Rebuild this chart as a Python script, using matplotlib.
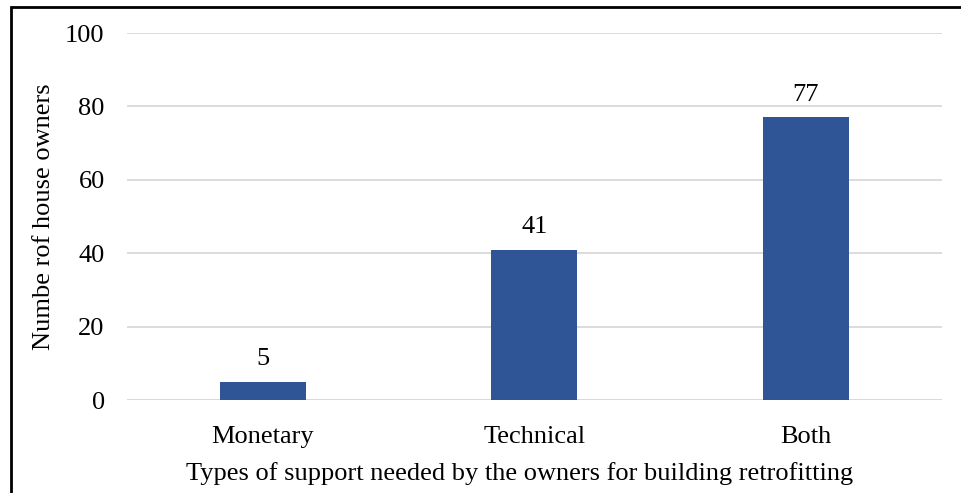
import matplotlib
matplotlib.use("Agg")
import matplotlib.pyplot as plt
from matplotlib.patches import Rectangle

categories = ["Monetary", "Technical", "Both"]
values = [5, 41, 77]
yticks = [0, 20, 40, 60, 80, 100]

plt.rcParams['font.family'] = ['Liberation Serif', 'DejaVu Serif']
FS = 19

fig = plt.figure(figsize=(9.61, 4.93), dpi=100)
ax = fig.add_axes([0.132, 0.1886, 0.848, 0.7444])

x = list(range(len(categories)))
bars = ax.bar(x, values, width=0.317, color="#2F5597", zorder=3)
for xi, v in zip(x, values):
    ax.annotate(str(v), (xi, v), xytext=(0, 8.5), textcoords="offset points",
                ha="center", va="bottom", fontsize=FS, color="#000000")

ax.set_xlim(-0.5, 2.5)
ax.set_ylim(0, 100)
ax.set_yticks(yticks)
ax.set_xticks(x)
ax.set_xticklabels(categories)
ax.tick_params(axis="both", length=0, labelsize=FS, colors="#000000")
ax.tick_params(axis="x", pad=18.5)
ax.tick_params(axis="y", pad=16)
ax.yaxis.grid(True, color="#D9D9D9", linewidth=1.3, zorder=0)
ax.set_axisbelow(True)
for s in ["top", "right", "left", "bottom"]:
    ax.spines[s].set_visible(False)
ax.axhline(0, color="#D9D9D9", linewidth=1.3, zorder=2)

ax.set_ylabel("Numbe rof house owners", fontsize=FS, labelpad=7)
ax.set_xlabel("Types of support needed by the owners for building retrofitting", fontsize=FS, labelpad=10)
ax.xaxis.label.set_x(0.482)

fig.patches.append(Rectangle((11/961, -0.1), 1.2, 1 - 7/493 + 0.1, transform=fig.transFigure,
                             fill=False, edgecolor="black", linewidth=2, zorder=10))

fig.savefig("out.png", dpi=100)
